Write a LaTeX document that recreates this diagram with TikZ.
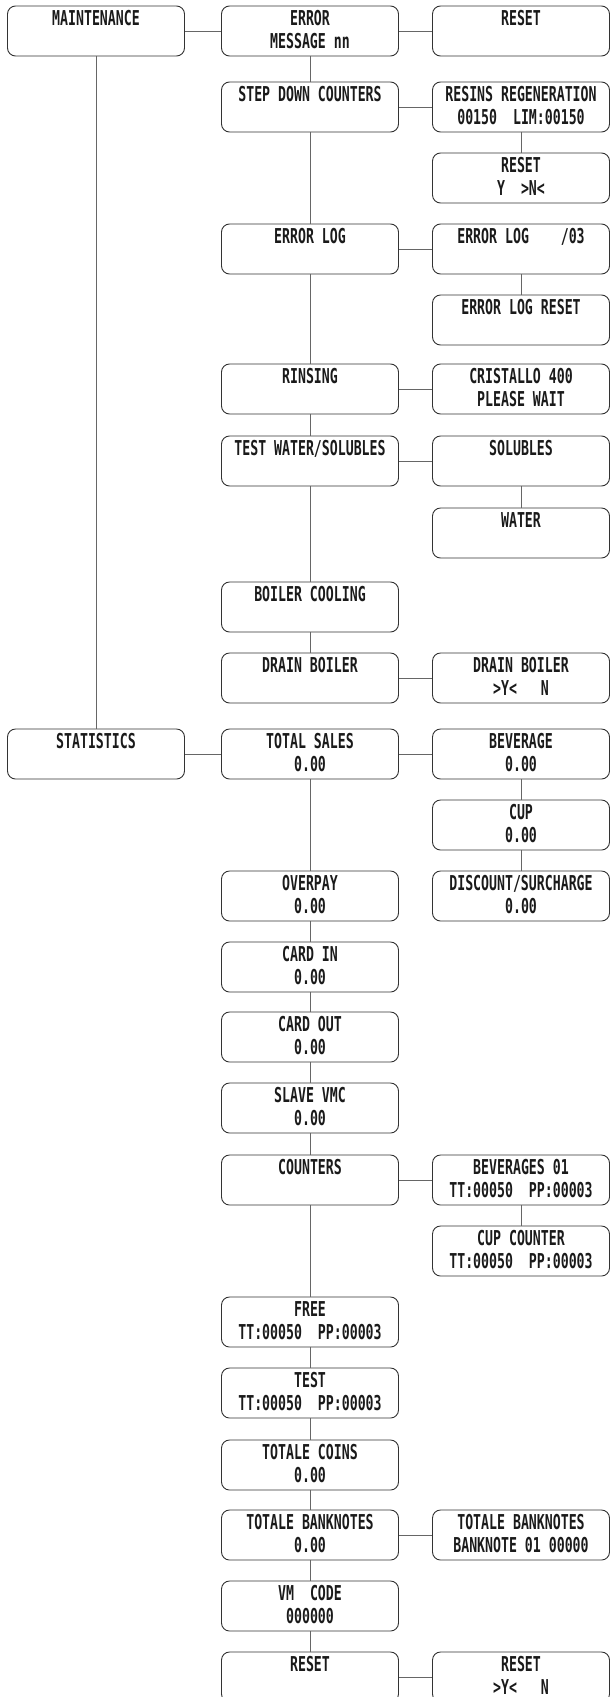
\documentclass[tikz,border=0pt]{standalone}
\usepackage{fontspec}
\newfontfamily\boxfontfam[FakeStretch=0.645]{DejaVu Sans Mono}
\definecolor{boxline}{HTML}{333333}
\definecolor{conline}{HTML}{666666}
\definecolor{txtcol}{HTML}{1A1A1A}
\newcommand\tbox[1]{\raisebox{0pt}[19.5pt][30.5pt]{\begin{tabular}[t]{@{}c@{}}#1\end{tabular}}}
\begin{document}
\begin{tikzpicture}[x=1pt,y=1pt,
  menubox/.style={draw=boxline, line width=0.9pt, rounded corners=8pt,
    minimum width=177pt, minimum height=50pt, inner sep=0pt, text=txtcol,
    font=\boxfontfam\bfseries\fontsize{20.5}{22.5}\selectfont},
  con/.style={draw=conline, line width=0.9pt}]
\useasboundingbox (0,0) rectangle (610,-1697);
\def\cA{96}\def\cB{310}\def\cC{521}
% column A
\node[menubox] (m)    at (\cA,-31)   {\tbox{MAINTENANCE}};
\node[menubox] (stat) at (\cA,-754)  {\tbox{STATISTICS}};
% column B
\node[menubox] (err)   at (\cB,-31)   {\tbox{ERROR\\MESSAGE nn}};
\node[menubox] (sdc)   at (\cB,-107)  {\tbox{STEP DOWN COUNTERS}};
\node[menubox] (elog)  at (\cB,-249)  {\tbox{ERROR LOG}};
\node[menubox] (rins)  at (\cB,-389)  {\tbox{RINSING}};
\node[menubox] (tws)   at (\cB,-461)  {\tbox{TEST WATER/SOLUBLES}};
\node[menubox] (boil)  at (\cB,-607)  {\tbox{BOILER COOLING}};
\node[menubox] (drain) at (\cB,-678)  {\tbox{DRAIN BOILER}};
\node[menubox] (tot)   at (\cB,-754)  {\tbox{TOTAL SALES\\0.00}};
\node[menubox] (over)  at (\cB,-896)  {\tbox{OVERPAY\\0.00}};
\node[menubox] (cin)   at (\cB,-967)  {\tbox{CARD IN\\0.00}};
\node[menubox] (cout)  at (\cB,-1037) {\tbox{CARD OUT\\0.00}};
\node[menubox] (slave) at (\cB,-1108) {\tbox{SLAVE VMC\\0.00}};
\node[menubox] (cnt)   at (\cB,-1180) {\tbox{COUNTERS}};
\node[menubox] (free)  at (\cB,-1322) {\tbox{FREE\\TT:00050~~PP:00003}};
\node[menubox] (test)  at (\cB,-1393) {\tbox{TEST\\TT:00050~~PP:00003}};
\node[menubox] (coins) at (\cB,-1465) {\tbox{TOTALE COINS\\0.00}};
\node[menubox] (bank)  at (\cB,-1535) {\tbox{TOTALE BANKNOTES\\0.00}};
\node[menubox] (vm)    at (\cB,-1606) {\tbox{VM~~CODE\\000000}};
\node[menubox] (rst)   at (\cB,-1677) {\tbox{RESET}};
% column C
\node[menubox] (rst1)   at (\cC,-31)   {\tbox{RESET}};
\node[menubox] (res)    at (\cC,-107)  {\tbox{RESINS REGENERATION\\00150~~LIM:00150}};
\node[menubox] (rstyn)  at (\cC,-178)  {\tbox{RESET\\Y~~>N<}};
\node[menubox] (elog3)  at (\cC,-249)  {\tbox{ERROR LOG~~~~/03}};
\node[menubox] (elogr)  at (\cC,-320)  {\tbox{ERROR LOG RESET}};
\node[menubox] (crist)  at (\cC,-389)  {\tbox{CRISTALLO 400\\PLEASE WAIT}};
\node[menubox] (sol)    at (\cC,-461)  {\tbox{SOLUBLES}};
\node[menubox] (wat)    at (\cC,-533)  {\tbox{WATER}};
\node[menubox] (drain2) at (\cC,-678)  {\tbox{DRAIN BOILER\\>Y<~~~N}};
\node[menubox] (bev)    at (\cC,-754)  {\tbox{BEVERAGE\\0.00}};
\node[menubox] (cup)    at (\cC,-825)  {\tbox{CUP\\0.00}};
\node[menubox] (disc)   at (\cC,-896)  {\tbox{DISCOUNT/SURCHARGE\\0.00}};
\node[menubox] (bev01)  at (\cC,-1180) {\tbox{BEVERAGES 01\\TT:00050~~PP:00003}};
\node[menubox] (cupc)   at (\cC,-1251) {\tbox{CUP COUNTER\\TT:00050~~PP:00003}};
\node[menubox] (bank2)  at (\cC,-1535) {\tbox{TOTALE BANKNOTES\\BANKNOTE 01 00000}};
\node[menubox] (rst2)   at (\cC,-1677) {\tbox{RESET\\>Y<~~~N}};
% horizontal connectors
\draw[con] (m) -- (err);
\draw[con] (err) -- (rst1);
\draw[con] (sdc) -- (res);
\draw[con] (elog) -- (elog3);
\draw[con] (rins) -- (crist);
\draw[con] (tws) -- (sol);
\draw[con] (drain) -- (drain2);
\draw[con] (stat) -- (tot);
\draw[con] (tot) -- (bev);
\draw[con] (cnt) -- (bev01);
\draw[con] (bank) -- (bank2);
\draw[con] (rst) -- (rst2);
% vertical connectors
\draw[con] (m) -- (stat);
\draw[con] (err) -- (sdc);
\draw[con] (sdc) -- (elog);
\draw[con] (elog) -- (rins);
\draw[con] (rins) -- (tws);
\draw[con] (tws) -- (boil);
\draw[con] (boil) -- (drain);
\draw[con] (tot) -- (over);
\draw[con] (over) -- (cin);
\draw[con] (cin) -- (cout);
\draw[con] (cout) -- (slave);
\draw[con] (slave) -- (cnt);
\draw[con] (cnt) -- (free);
\draw[con] (free) -- (test);
\draw[con] (test) -- (coins);
\draw[con] (coins) -- (bank);
\draw[con] (bank) -- (vm);
\draw[con] (vm) -- (rst);
\draw[con] (res) -- (rstyn);
\draw[con] (elog3) -- (elogr);
\draw[con] (sol) -- (wat);
\draw[con] (bev) -- (cup);
\draw[con] (cup) -- (disc);
\draw[con] (bev01) -- (cupc);
\end{tikzpicture}
\end{document}
